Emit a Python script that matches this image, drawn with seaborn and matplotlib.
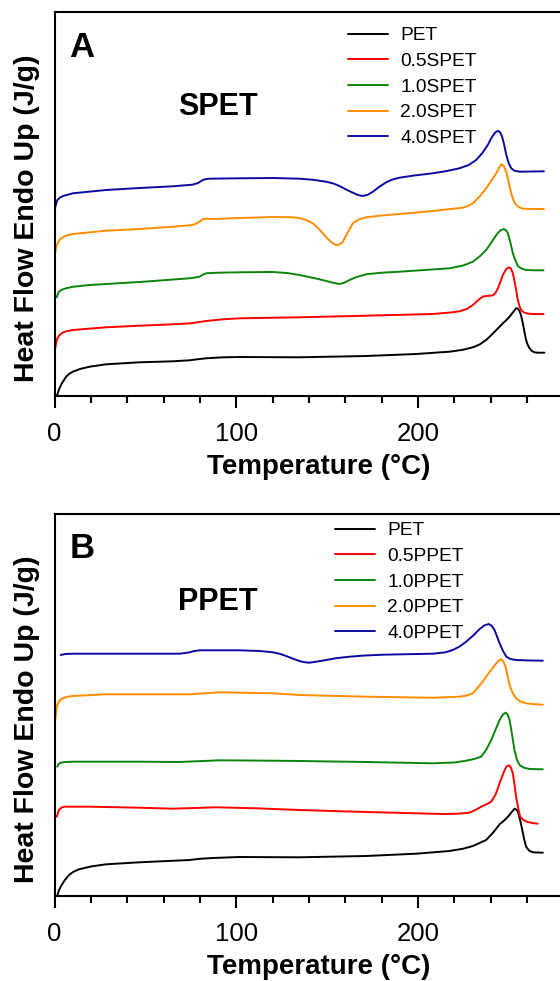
# DSC curves for SPET / PPET series
import numpy as np
import pandas as pd
import seaborn as sns
import matplotlib.pyplot as plt
from matplotlib.ticker import MultipleLocator, FixedLocator

sns.set_style("ticks")
plt.rcParams['font.family'] = ['Liberation Sans', 'DejaVu Sans']
plt.rcParams['text.color'] = 'black'
plt.rcParams['axes.labelcolor'] = 'black'
plt.rcParams['xtick.color'] = 'black'

COLORS = ["#000000", "#ff0000", "#0a850a", "#ff8c00", "#0a0aa0"]

# ---- Panel A (SPET) ----
A_LABELS = ["PET", "0.5SPET", "1.0SPET", "2.0SPET", "4.0SPET"]

A_PET_T = [1.3, 2, 2.75, 4, 6.4, 8, 10.1, 14, 19.3, 28.4, 46.8, 65.1, 74.3, 79, 83.5, 92.7, 101.8, 134.8,
           171.5, 199, 217.4, 225, 230.3, 234, 237.6, 240.5, 243.2, 246.8, 248.5, 250.5, 252.5, 254.1, 255,
           256, 256.9, 257.8, 258.7, 259.6, 260.5, 261.5, 262.8, 264.2, 266, 269.7]
A_PET_Y = [0, 4, 7.7, 12.5, 19.3, 22, 24.3, 27, 29.3, 31.7, 33.7, 34.7, 35.7, 36.8, 37.7, 38.7, 39, 38.7,
           40, 42, 44.3, 46.3, 48.7, 51.5, 56, 61, 66, 72.7, 75.5, 79.3, 84, 87.7, 87.5,
           85, 80, 72.7, 64, 56, 51, 47.7, 45, 43.7, 43.3, 43.3]

A_05_T = [0.3, 0.9, 1.6, 2.8, 4.4, 7, 10.1, 28.4, 46.8, 65.1, 75, 79, 83.5, 92.7, 101.8, 134.8, 171.5, 208.2,
          218, 222.9, 227, 230.3, 233, 234.9, 236.3, 237.6, 239.5, 241.3, 242.7, 244.1, 245.5, 246.8, 248.5,
          250.1, 251.2, 252.3, 253.2, 254.1, 255, 256, 257.2, 258.7, 260.5, 263.3, 269.2]
A_05_Y = [46.7, 53, 57.7, 61, 63.3, 65, 66, 68.7, 70.3, 71.7, 72.7, 73.8, 75, 76.7, 77.7, 78.7, 80.3, 82,
          83.5, 84.7, 87, 91, 95.5, 98.3, 99.7, 100, 100.2, 100.7, 103, 107.7, 114.5, 121, 126.5,
          128.7, 127.5, 122.7, 115, 106, 96.5, 89.3, 85.3, 83.3, 82.4, 82, 82]

A_10_T = [1.3, 1.8, 2.4, 4, 6.4, 10, 19.3, 46.8, 74.3, 77.5, 79.8, 81.8, 83.5, 90, 101.8, 120.2, 128, 134.8,
          140, 145.9, 150, 153.2, 156.9, 159.5, 162.4, 166, 171.5, 180, 189.9, 217.4, 225, 230.3, 234, 237.6,
          240.5, 243.2, 245.2, 247.2, 248.5, 249.6, 251, 252.3, 253.7, 255.1, 257, 259.6, 264, 269.2]
A_10_Y = [98.7, 102, 104.3, 106.3, 107.7, 109.2, 111, 114, 117.7, 118.5, 119.3, 121.5, 122.7, 123.3, 123.7, 124,
          123, 121, 119, 116.7, 114.8, 113.3, 112, 113.3, 116, 118.8, 121.7, 123.3, 124.3, 127.7, 130.5,
          134.3, 139.5, 146, 153.5, 161, 165.3, 167, 165.8, 162.7, 153, 142.7, 135.5, 130, 127.5, 126,
          125.7, 125.7]

A_20_T = [0.3, 0.8, 1.3, 2.5, 4.4, 7, 10.1, 28.4, 46.8, 65.1, 76, 78, 79.8, 81.2, 82.6, 87.2, 101.8, 120.2,
          130, 134.8, 138.5, 142.2, 145, 147.7, 150.5, 153.2, 154.6, 155.9, 157.3, 158.7, 161.4, 164.2, 167.5,
          171.5, 180, 189.9, 208.2, 224.7, 227.5, 230.3, 234, 237.6, 240.5, 243.2, 244.6, 245.9, 247.3, 248.7,
          250, 251.4, 252.7, 254.1, 255.8, 257.8, 262, 269.4]
A_20_Y = [142, 147.5, 151, 155.5, 158.7, 160.7, 162, 165.3, 167, 169.3, 171, 172.5, 174.3, 176.2, 177.3, 177,
          178, 179, 178.8, 178, 176, 172.7, 168, 162.7, 157, 152.7, 151.2, 151, 152, 154.3, 163.5, 172.7,
          176.5, 178.7, 180.5, 182, 185, 188.3, 190, 192.7, 199.5, 207.7, 215.5, 222.7, 228, 231.7, 230,
          224.3, 214, 202.7, 195.5, 191, 188.7, 187.3, 187, 187]

A_40_T = [0.3, 0.9, 1.6, 3.2, 5.3, 10.1, 28.4, 46.8, 65.1, 76, 79, 81.6, 83.5, 85.3, 101.8, 120.2, 134.8, 142,
          149.5, 153.5, 156.9, 160.5, 164.2, 167, 169.7, 172.5, 175.3, 179, 182.6, 186, 189.9, 198, 208.2, 216,
          222.9, 228, 232.1, 235.5, 238.5, 240.5, 242.2, 243.4, 244.4, 245.4, 246.4, 247.5, 248.7, 250, 251.4,
          253.2, 256, 262, 269.4]
A_40_Y = [187.7, 192.5, 196, 198.7, 200.3, 202.7, 206, 208, 209.7, 211.3, 213, 216, 217, 217.3, 217.7, 218,
          217.3, 216.3, 214.3, 212.5, 210, 206.5, 203.3, 201, 200, 201.3, 204.3, 209.5, 213.7, 216.5, 218.3,
          220.5, 222.7, 225, 227.7, 231, 236, 243, 251, 258, 262.7, 264.6, 265, 263.3, 259.3, 251.5, 241, 233,
          227.7, 225.3, 224.3, 224.5, 224.7]

# ---- Panel B (PPET) ----
B_LABELS = ["PET", "0.5PPET", "1.0PPET", "2.0PPET", "4.0PPET"]

B_PET_T = [1.5, 2.3, 3.4, 5.5, 8, 10.5, 13.5, 20, 28.4, 46.8, 74.3, 80, 87.2, 101.8, 134.8, 171.5, 199,
           217.4, 225, 230.3, 234, 237.6, 241.5, 245, 247.5, 249.6, 251.5, 253.2, 254.2, 255.1, 256.3, 257.5,
           258.5, 259.6, 261.2, 263.3, 268.8]
B_PET_Y = [0, 5, 9.3, 15.5, 21, 24.3, 26.7, 29.5, 31.7, 33.7, 36, 37.2, 38, 39, 38.7, 40, 42.3,
           45, 47.3, 50, 53, 56, 63.5, 71.7, 75.5, 79.3, 83.5, 87.3, 86.5, 84.3, 76, 66,
           57, 49.3, 45.5, 43.7, 43.3]

B_05_T = [1.3, 2, 2.75, 4, 5.5, 19.3, 46.8, 65.1, 89, 111, 134.8, 171.5, 213.7, 222, 228.4, 232, 234.9, 238,
          240.4, 242.8, 245, 246.5, 247.8, 249, 250.1, 251.2, 252.3, 253.2, 254.1, 255.2, 256.3, 258, 260.5,
          263, 266]
B_05_Y = [79.3, 84, 86.7, 88.5, 89.3, 89.3, 88.3, 87.3, 88.7, 87.7, 86, 84, 82, 82.3, 83.3, 86.3, 89.3, 92,
          94.3, 101.5, 112.7, 120, 126, 129.8, 130.7, 128.5, 122.7, 111.5, 99.3, 88, 79.3, 76, 74,
          73, 72.3]

B_10_T = [1.5, 2.3, 3.4, 6, 10.1, 46.8, 68.8, 90.9, 120.2, 134.8, 171.5, 208.2, 220, 226.6, 231, 234.9, 237.7,
          240.4, 242.8, 245, 246.8, 248.3, 249.4, 250.5, 251.8, 253.2, 254.5, 256, 258.5, 261.5, 268.8]
B_10_Y = [129.3, 132, 133.3, 134, 134.3, 134.3, 134, 135.7, 135.3, 135, 134, 132.7, 133.5, 135.3, 137, 139.3,
          146.5, 156, 166.5, 176, 181.5, 183.3, 181.5, 176, 162, 146, 136.5, 131, 128.2, 127, 126.7]

B_20_T = [0.6, 1, 1.5, 2.8, 4.4, 7, 10.1, 28.4, 74.3, 90.9, 120.2, 134.8, 171.5, 208.2, 222.9, 227, 230.3, 234,
          237.6, 240.5, 243.2, 244.7, 245.9, 247.1, 248.3, 249.4, 250.5, 252.2, 254.1, 256.5, 259.6, 264, 268.8]
B_20_Y = [177.7, 186, 191, 195.5, 197.7, 199.2, 200, 201.7, 201.7, 203.7, 202.7, 201, 199.3, 198.3, 199.3, 200.5,
          202.7, 210.5, 219.3, 226.5, 232.7, 235.8, 236.7, 234.5, 229.3, 220.5, 211, 203, 197.7, 194.5, 192.7,
          191.8, 191.3]

B_40_T = [3.4, 6, 10.1, 46.8, 68.8, 72, 74.3, 77, 79.8, 101.8, 113, 120.2, 124, 127.5, 131, 134.8, 137.5, 140.3,
          144, 149.5, 155, 162.4, 170, 180.7, 208.2, 215, 219.2, 223, 226.6, 230.5, 233.9, 236.5, 239, 240.6,
          242.2, 243.6, 245, 246.9, 248.7, 251, 254.1, 260, 268.8]
B_40_Y = [241, 242, 242.3, 242.3, 242.3, 243, 243.7, 245, 245.7, 245.7, 245, 243.7, 242.2, 240, 237.5, 235, 233.8,
          233.3, 234.3, 236, 237.8, 239.3, 240.4, 241.3, 242.3, 243.6, 246, 249.5, 254.3, 260.5, 266.7, 270.5,
          272, 270.3, 266, 259.5, 252.7, 245, 239.3, 237, 236, 235.6, 235.3]


def build_df(labels, curves):
    parts = []
    for lab, (t, y) in zip(labels, curves):
        parts.append(pd.DataFrame({"T": t, "flow": y, "sample": lab}))
    return pd.concat(parts, ignore_index=True)


df_a = build_df(A_LABELS, [(A_PET_T, A_PET_Y), (A_05_T, A_05_Y), (A_10_T, A_10_Y),
                           (A_20_T, A_20_Y), (A_40_T, A_40_Y)])
df_b = build_df(B_LABELS, [(B_PET_T, B_PET_Y), (B_05_T, B_05_Y), (B_10_T, B_10_Y),
                           (B_20_T, B_20_Y), (B_40_T, B_40_Y)])

fig = plt.figure(figsize=(5.6, 9.81), dpi=100)
ax_a = fig.add_axes([54.5 / 560, (981 - 396) / 981, 545 / 560, 384 / 981])
ax_b = fig.add_axes([54.5 / 560, (981 - 896) / 981, 545 / 560, 382 / 981])


def draw_panel(ax, df, labels, letter, name, ymax, leg_xy, name_y):
    sns.lineplot(data=df, x="T", y="flow", hue="sample", hue_order=labels,
                 palette=COLORS, sort=False, estimator=None, linewidth=1.4,
                 solid_joinstyle='round', ax=ax)
    ax.set_xlim(0, 300)
    ax.set_ylim(0, ymax)
    ax.set_yticks([])
    ax.xaxis.set_major_locator(FixedLocator([0, 100, 200]))
    ax.xaxis.set_minor_locator(MultipleLocator(20))
    ax.tick_params(axis='x', which='major', length=8.6, width=1.5, pad=10,
                   labelsize=18.5, direction='out', color='black', labelcolor='black')
    ax.tick_params(axis='x', which='minor', length=5, width=1.5, direction='out', color='black')
    for sp in ["left", "bottom", "top"]:
        ax.spines[sp].set_linewidth(1.5)
        ax.spines[sp].set_color("black")
    ax.spines["right"].set_visible(False)

    ax.set_xlabel("Temperature (°C)", fontsize=20, fontweight='bold')
    ax.xaxis.set_label_coords(0.485, -0.151)
    ax.set_ylabel("Heat Flow Endo Up (J/g)", fontsize=20.5, fontweight='bold')
    ax.yaxis.set_label_coords(-0.027, 0.464)

    ax.text(0.027, 0.884, letter, transform=ax.transAxes, fontsize=25,
            fontweight='bold', va='baseline', ha='left')
    ax.text(0.30, name_y, name, transform=ax.transAxes, fontsize=22,
            fontweight='bold', va='baseline', ha='center')

    handles, labs = ax.get_legend_handles_labels()
    ax.legend(handles, labs, loc='upper left', bbox_to_anchor=leg_xy, frameon=False,
              fontsize=13.8, handlelength=2.1, handletextpad=0.64, labelspacing=0.43,
              borderpad=0, borderaxespad=0)


draw_panel(ax_a, df_a, A_LABELS, "A", "SPET", 384, (0.538, 0.961), 0.732)
draw_panel(ax_b, df_b, B_LABELS, "B", "PPET", 382, (0.514, 0.979), 0.749)

fig.savefig("out.png", dpi=100)
